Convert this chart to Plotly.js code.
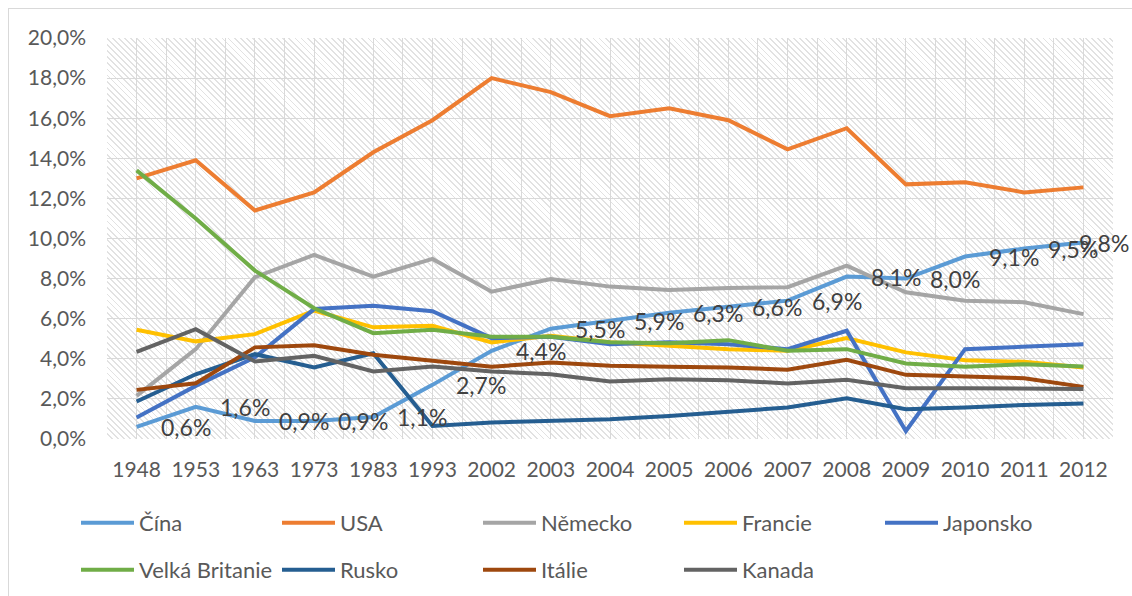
<!DOCTYPE html>
<html>
<head>
<meta charset="utf-8">
<script src="https://cdn.plot.ly/plotly-3.0.1.min.js"></script>
<style>
  html, body { margin: 0; padding: 0; background: #ffffff; }
  #wrap { position: relative; width: 1132px; height: 596px; overflow: hidden; }
  #hatch {
    position: absolute; left: 107px; top: 38px; width: 1006px; height: 401px;
    background: repeating-linear-gradient(45deg, #ffffff 0px, #ffffff 3px, #e2e2e2 3px, #e2e2e2 4.3px);
    z-index: 0;
  }
  #frame {
    position: absolute; left: 8px; top: 8px; width: 1140px; height: 600px;
    border: 1px solid #d9d9d9; box-sizing: border-box; z-index: 0;
  }
  #chart { position: absolute; left: 0; top: 0; width: 1132px; height: 596px; z-index: 1; }
</style>
</head>
<body>
<div id="wrap">
  <div id="frame"></div>
  <div id="hatch"></div>
  <div id="chart"></div>
</div>
<script>
const years = ['1948','1953','1963','1973','1983','1993','2002','2003','2004','2005','2006','2007','2008','2009','2010','2011','2012'];

const cina      = [0.6, 1.6, 0.9, 0.9, 1.1, 2.7, 4.4, 5.5, 5.9, 6.3, 6.6, 6.9, 8.1, 8.0, 9.1, 9.5, 9.8];
const usa       = [13.0, 13.9, 11.4, 12.3, 14.3, 15.9, 18.0, 17.3, 16.1, 16.5, 15.9, 14.45, 15.5, 12.7, 12.8, 12.3, 12.55];
const nemecko   = [2.15, 4.48, 8.07, 9.18, 8.1, 8.98, 7.35, 7.98, 7.6, 7.43, 7.53, 7.57, 8.65, 7.32, 6.9, 6.82, 6.23];
const francie   = [5.45, 4.87, 5.23, 6.4, 5.57, 5.65, 4.82, 5.15, 4.82, 4.65, 4.48, 4.4, 5.03, 4.32, 3.93, 3.85, 3.57];
const japonsko  = [1.07, 2.65, 4.07, 6.48, 6.65, 6.37, 5.03, 5.1, 4.73, 4.82, 4.73, 4.48, 5.4, 0.4, 4.48, 4.62, 4.73];
const britanie  = [13.4, 11.0, 8.4, 6.52, 5.28, 5.45, 5.1, 5.1, 4.82, 4.77, 4.93, 4.4, 4.48, 3.77, 3.6, 3.73, 3.62];
const rusko     = [1.87, 3.23, 4.23, 3.57, 4.28, 0.65, 0.82, 0.9, 0.98, 1.15, 1.35, 1.57, 2.03, 1.48, 1.57, 1.7, 1.77];
const italie    = [2.45, 2.78, 4.57, 4.68, 4.2, 3.9, 3.6, 3.82, 3.65, 3.6, 3.57, 3.45, 3.95, 3.2, 3.1, 3.03, 2.6];
const kanada    = [4.35, 5.48, 3.87, 4.15, 3.37, 3.62, 3.37, 3.23, 2.87, 2.98, 2.93, 2.77, 2.95, 2.53, 2.53, 2.53, 2.5];

const seriesNames = ['Čína', 'USA', 'Německo', 'Francie', 'Japonsko', 'Velká Britanie', 'Rusko', 'Itálie', 'Kanada'];
const seriesValues = [cina, usa, nemecko, francie, japonsko, britanie, rusko, italie, kanada];
const seriesColors = ['#5B9BD5', '#ED7D31', '#A5A5A5', '#FFC000', '#4472C4', '#70AD47', '#255E91', '#9E480E', '#636363'];

const idx = years.map((_, i) => i);
const FONT = 'Lato, "Open Sans", sans-serif';

const traces = seriesNames.map((name, k) => ({
  type: 'scatter',
  mode: 'lines',
  name: name,
  x: idx,
  y: seriesValues[k],
  line: { color: seriesColors[k], width: 4 },
  legend: k < 5 ? 'legend' : 'legend2',
  hoverinfo: 'skip'
}));

const fmt = v => v.toFixed(1).replace('.', ',') + '%';
const lastIdx = cina.length - 1;
const annotations = cina.map((v, i) => ({
  x: i, y: v, xref: 'x', yref: 'y',
  text: fmt(v), showarrow: false,
  xanchor: i === lastIdx ? 'right' : 'left', yanchor: 'middle',
  xshift: i === lastIdx ? 48 : 22,
  font: { family: FONT, size: 23, color: '#404040' }
}));

const legendCommon = {
  orientation: 'h', xref: 'container', yref: 'container',
  xanchor: 'left', yanchor: 'top',
  entrywidth: 133, entrywidthmode: 'pixels',
  itemwidth: 53,
  bgcolor: 'rgba(0,0,0,0)',
  font: { family: FONT, size: 22, color: '#595959' },
  traceorder: 'normal'
};

const layout = {
  width: 1132, height: 596,
  margin: { l: 107, r: 19, t: 38, b: 157 },
  paper_bgcolor: 'rgba(0,0,0,0)',
  plot_bgcolor: 'rgba(0,0,0,0)',
  separators: ', ',
  font: { family: FONT, size: 21, color: '#595959' },
  xaxis: {
    type: 'linear',
    range: [-0.5, years.length - 0.5],
    tickmode: 'array', tickvals: idx, ticktext: years,
    showgrid: true, gridcolor: '#d9d9d9', gridwidth: 1,
    minor: { tickmode: 'linear', tick0: -0.5, dtick: 1, showgrid: true, gridcolor: '#d9d9d9', gridwidth: 1, ticklen: 0 },
    zeroline: false, showline: false, ticks: '',
    ticklabelstandoff: 16,
    tickfont: { family: FONT, size: 21, color: '#595959' },
    fixedrange: true
  },
  yaxis: {
    range: [0, 20], dtick: 2, tick0: 0,
    tickformat: '.1f', ticksuffix: '%',
    showgrid: true, gridcolor: '#d9d9d9', gridwidth: 1,
    zeroline: false, showline: false, ticks: '',
    ticklabelstandoff: 20,
    tickfont: { family: FONT, size: 21, color: '#595959' },
    fixedrange: true
  },
  legend: Object.assign({}, legendCommon, { x: 76 / 1132, y: 1 - 502 / 596 }),
  legend2: Object.assign({}, legendCommon, { x: 76 / 1132, y: 1 - 549 / 596 }),
  annotations: annotations,
  showlegend: true
};

Plotly.newPlot('chart', traces, layout, { displayModeBar: false, staticPlot: true });
</script>
</body>
</html>
